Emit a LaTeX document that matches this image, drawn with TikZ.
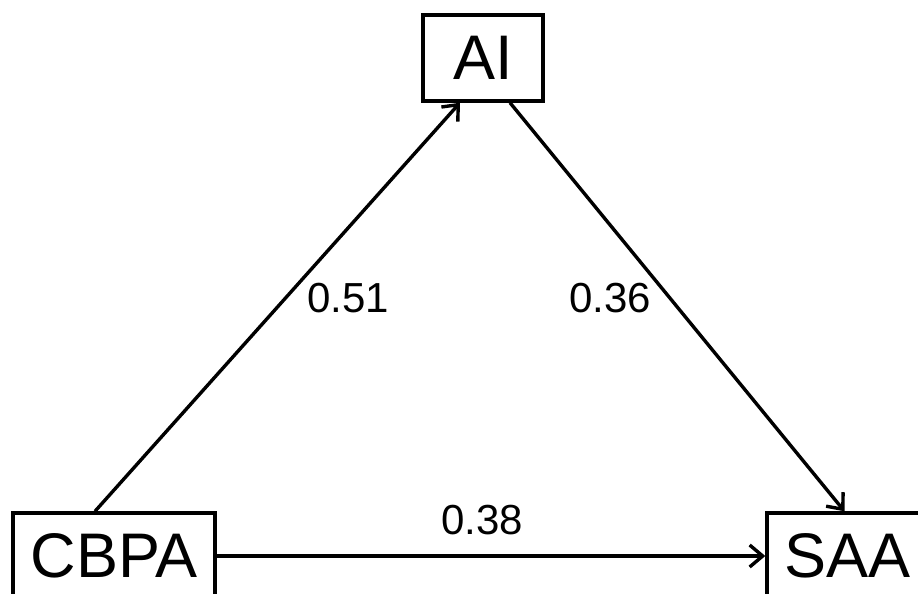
\documentclass[tikz,border=0pt]{standalone}
\usepackage{fontspec}
\setmainfont{Liberation Sans}
\usetikzlibrary{arrows.meta}

\begin{document}
\begin{tikzpicture}[x=0.5pt, y=-0.5pt,
		var/.style={draw, line width=1.7pt, inner sep=0pt, minimum height=43pt, font=\fontsize{31.5}{36}\selectfont},
		arr/.style={line width=1.7pt, -{Straight Barb[length=6.5pt, width=11pt, line width=1.7pt]}},
		coef/.style={font=\fontsize{21}{24}\selectfont}]
		\useasboundingbox (0,0) rectangle (918,594);
		\node[var, minimum width=60pt] (AI) at (483,58) {AI};
		\node[var, minimum width=101pt] (CBPA) at (114,556) {CBPA};
		\node[var, minimum width=80.5pt] (SAA) at (847.5,556) {SAA};
		\draw[arr] ([xshift=-9.5pt]CBPA.north) -- ([xshift=-11.5pt]AI.south);
		\draw[arr] ([xshift=13.5pt]AI.south) -- ([xshift=-1.5pt]SAA.north);
		\draw[arr] (CBPA.east) -- (SAA.west);
		\node[coef] (b1) at (348,298) {0.51};
		\node[coef] (b2) at (610,298) {0.36};
		\node[coef] (b3) at (482,520) {0.38};
	\end{tikzpicture}
\end{document}
